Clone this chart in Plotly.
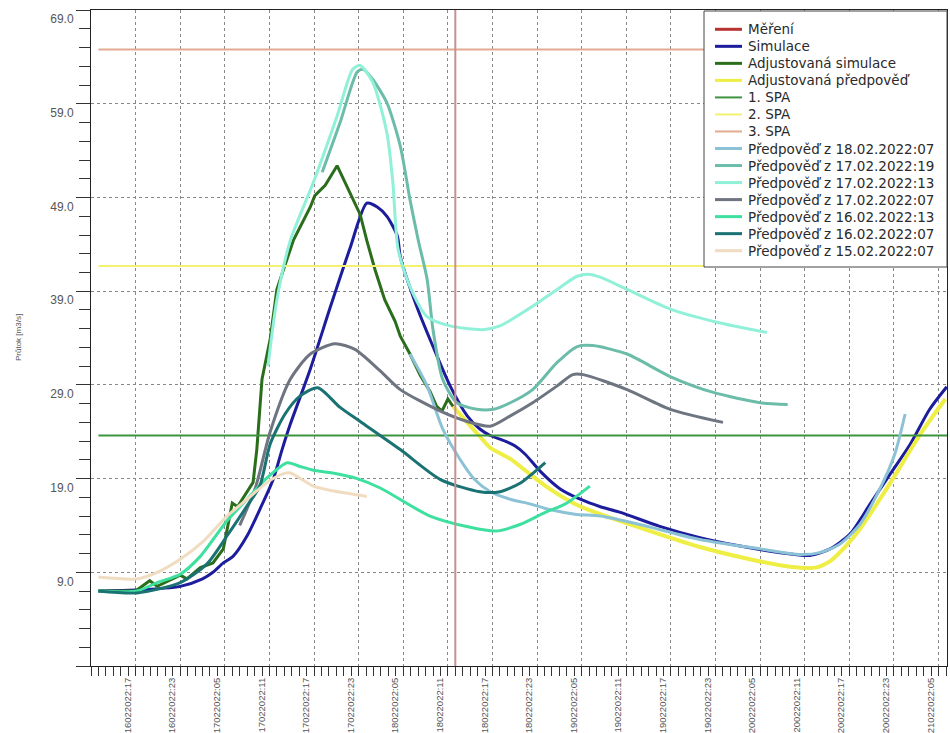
import pandas as pd
import plotly.graph_objects as go

BASE = pd.Timestamp("2022-02-16 00:00")

# x tick labels (every 6 hours)
x_tick_labels = ["16022022:17", "16022022:23", "17022022:05", "17022022:11", "17022022:17",
                 "17022022:23", "18022022:05", "18022022:11", "18022022:17", "18022022:23",
                 "19022022:05", "19022022:11", "19022022:17", "19022022:23", "20022022:05",
                 "20022022:11", "20022022:17", "20022022:23", "21022022:05"]
y_tick_vals = [-1, 9, 19, 29, 39, 49, 59, 69]
y_tick_text = ["", "9.0", "19.0", "29.0", "39.0", "49.0", "59.0", "69.0"]

# hours since 16.02.2022 00:00
x_range_h = [11, 126.13]
now_h = 60

# Simulace
sim_h = [12, 17, 23, 26, 27.4, 28.8, 30.1, 32, 33.7, 35.5, 36.7, 37.8, 40.5, 43.1, 45.8, 48.1, 49.5, 50.8,
         52.2, 52.6, 54.8, 57, 59.3, 61.6, 63.3, 64.7, 66.7, 68, 69.4, 71.4, 74.1, 76.8, 79.5, 82.2, 87.5,
         92.9, 98.3, 103.7, 107.7, 110.4, 113.1, 115.8, 118.5, 121.2, 123.8, 126.1]
sim_v = [7.0, 7.1, 7.5, 8.3, 9.0, 10.0, 10.7, 12.9, 15.7, 18.9, 22.1, 24.8, 30.7, 37.1, 43.5, 48.4, 48.0, 47.0,
         44.9, 42.7, 37.4, 33.1, 28.9, 25.7, 24.3, 23.6, 23.0, 22.5, 21.6, 19.8, 17.9, 16.8, 16.0, 15.4, 13.9,
         12.7, 11.8, 11.1, 10.8, 11.5, 13.1, 16.3, 19.5, 22.7, 26.4, 28.8]

# Adjustovaná simulace
adj_h = [12, 17, 18.9, 19.9, 23, 23.9, 25.7, 27.4, 28.8, 30, 30.7, 32.8, 33.3, 34, 35.1, 36, 38.2, 40.5, 41.1,
         42.5, 44.1, 45.8, 47.2, 48.1, 49.2, 50.5, 51.9, 52.6, 53.9, 55.3, 56.6, 57.5, 58.2, 59, 59.7]
adj_v = [7.0, 7.0, 8.1, 7.5, 8.7, 8.3, 9.5, 10.0, 11.5, 16.4, 16.0, 18.6, 22.1, 29.6, 33.9, 39.2, 44.4, 48.0, 49.2,
         50.3, 52.4, 49.5, 47.2, 44.4, 41.3, 38.1, 35.8, 34.2, 32.3, 30.0, 28.3, 26.7, 26.2, 27.5, 26.7]

# Adjustovaná předpověď
adjf_h = [59.7, 61.6, 63.3, 64.7, 67.4, 70, 72.7, 76.1, 79.5, 86.2, 92.9, 99.6, 105, 108.4, 110.4, 112.4, 114.4,
          117.1, 119.8, 122.5, 125.9]
adjf_v = [26.7, 25.0, 23.5, 22.3, 21.1, 19.5, 17.9, 16.3, 15.2, 13.4, 11.7, 10.4, 9.6, 9.5, 10.2, 11.7, 13.6,
          16.8, 20.2, 23.7, 27.5]

# SPA levels
spa1 = 23.6
spa2 = 41.7
spa3 = 64.8
spa_h = [12, 127]

# Forecasts
f1802_h = [53.9, 56.2, 58.3, 60.6, 62.6, 64.7, 67.4, 70, 72.7, 76.1, 79.5, 84.8, 92.9, 101, 106.4, 109, 111.7,
           114.4, 117.1, 119.1, 120.5]
f1802_v = [32.3, 28.9, 24.3, 21.1, 18.9, 17.6, 16.8, 16.3, 15.7, 15.2, 15.0, 14.1, 12.5, 11.5, 10.9, 11.1, 12.0,
           14.1, 17.9, 21.6, 25.9]

f1719_h = [42.1, 44.5, 46.8, 47.6, 48.9, 50.8, 52.6, 53.9, 55, 56.2, 57, 58.3, 60.2, 62.9, 65.1, 67.4, 70.4,
           73.7, 76.4, 78.5, 83.1, 88.9, 94.7, 101, 104.7]
f1719_v = [51.7, 57.0, 62.4, 62.7, 61.6, 59.1, 54.5, 48.8, 44.5, 40.3, 34.9, 29.6, 27.1, 26.4, 26.4, 27.1, 28.5,
           31.4, 33.1, 33.2, 32.3, 29.9, 28.2, 27.1, 26.9]

f1713_h = [34.8, 36, 37.8, 40.9, 44.1, 46.2, 47.2, 48.9, 50.8, 51.6, 52.3, 53.9, 56.2, 59.3, 63.7, 66, 70.4,
           73.7, 76.4, 78.1, 79.5, 83.1, 88.9, 95.2, 101.9]
f1713_v = [31.0, 38.1, 44.4, 50.6, 57.7, 62.7, 63.1, 61.3, 55.9, 50.6, 43.5, 39.5, 36.3, 35.3, 34.9, 35.3, 37.4,
           39.2, 40.6, 40.8, 40.5, 39.2, 37.1, 35.7, 34.6]

f1707_h = [31, 33.1, 35.1, 37.8, 40.5, 43.8, 46.5, 49.9, 52.6, 58, 61.6, 64.7, 67.4, 70.4, 73.7, 75.8, 77.2,
           83.1, 88.9, 96]
f1707_v = [14.0, 18.0, 24.0, 29.6, 32.3, 33.4, 32.8, 30.5, 28.5, 26.2, 25.1, 24.6, 25.7, 27.1, 28.9, 30.1, 30.1,
           28.5, 26.4, 25.0]

f1613_h = [12, 17.2, 19.9, 23, 25.7, 29.3, 32, 34.7, 37.4, 39.1, 40.9, 43.5, 46.8, 49.9, 56.6, 62, 65.4, 68.7,
           72.1, 74.8, 78.1]
f1613_v = [7.0, 7.0, 7.9, 8.8, 10.7, 14.5, 16.8, 19.1, 20.7, 20.3, 19.9, 19.6, 19.0, 18.0, 15.0, 13.8, 13.4, 14.1,
           15.4, 16.3, 18.2]

f1607_h = [12, 17.2, 23, 26.6, 29.3, 32, 33.7, 35.1, 37.1, 39.1, 41.5, 44.5, 47.2, 52.6, 58, 63.3, 66, 68.7, 72.1]
f1607_v = [7.0, 6.8, 7.9, 9.9, 12.9, 16.1, 18.2, 22.7, 25.9, 27.8, 28.7, 26.6, 25.1, 22.1, 18.9, 17.6, 17.6,
           18.5, 20.7]

f1507_h = [12, 17.2, 19.9, 23, 26.1, 29.3, 32, 34.7, 36.8, 37.8, 40.9, 43.5, 48.1]
f1507_v = [8.5, 8.3, 9.0, 10.4, 12.3, 15.0, 16.8, 18.6, 19.5, 19.6, 18.2, 17.7, 17.1]


def t(hours):
    return [BASE + pd.Timedelta(hours=h) for h in hours]


# plot area in pixels (for legend placement)
L, R, T, B = 91, 947, 10, 666


def px(xp):
    return (xp - L) / (R - L)


def py(yp):
    return (B - yp) / (B - T)


fig = go.Figure()
legend_entries = [("Měření", "#b83232", 3)]


def add(name, h, v, color, width, shape="spline"):
    fig.add_trace(go.Scatter(x=t(h), y=v, mode="lines", name=name, showlegend=False,
                             line=dict(color=color, width=width, shape=shape, smoothing=0.7)))
    legend_entries.append((name, color, min(width, 3)))


add("Simulace", sim_h, sim_v, "#1c1c9c", 3)
add("Adjustovaná simulace", adj_h, adj_v, "#2a6e1c", 3, "linear")
add("Adjustovaná předpověď", adjf_h, adjf_v, "#eeee44", 4)
add("1. SPA", spa_h, [spa1, spa1], "#3d9440", 2, "linear")
add("2. SPA", spa_h, [spa2, spa2], "#f2f270", 2, "linear")
add("3. SPA", spa_h, [spa3, spa3], "#e2aa90", 2, "linear")
add("Předpověď z 18.02.2022:07", f1802_h, f1802_v, "#8cc2d6", 3)
add("Předpověď z 17.02.2022:19", f1719_h, f1719_v, "#6cbcaa", 3)
add("Předpověď z 17.02.2022:13", f1713_h, f1713_v, "#90f0d8", 3)
add("Předpověď z 17.02.2022:07", f1707_h, f1707_v, "#6e7480", 3)
add("Předpověď z 16.02.2022:13", f1613_h, f1613_v, "#3ee0a0", 3)
add("Předpověď z 16.02.2022:07", f1607_h, f1607_v, "#1a7272", 3)
add("Předpověď z 15.02.2022:07", f1507_h, f1507_v, "#f0dcc0", 3)

now_time = BASE + pd.Timedelta(hours=now_h)
fig.add_shape(type="line", xref="x", yref="paper", x0=now_time, x1=now_time, y0=0, y1=1,
              line=dict(color="#c89090", width=2), layer="above")

# legend box (drawn manually for compact spacing)
fig.add_shape(type="rect", xref="paper", yref="paper", x0=px(704), x1=px(947), y0=py(267), y1=py(11),
              fillcolor="white", line=dict(color="#444", width=1), layer="above")
annotations = []
for i, (name, color, w) in enumerate(legend_entries):
    yy = py(29.3 + 17.03 * i)
    fig.add_shape(type="line", xref="paper", yref="paper", x0=px(715), x1=px(742), y0=yy, y1=yy,
                  line=dict(color=color, width=w), layer="above")
    annotations.append(dict(text=name, xref="paper", yref="paper", x=px(745.5), y=yy, showarrow=False,
                            xanchor="left", yanchor="middle",
                            font=dict(family="DejaVu Sans", size=13.5, color="#2a2a2a")))

annotations.append(dict(text="Průtok [m3/s]", xref="paper", yref="paper", x=px(18), y=0.5,
                        textangle=-90, showarrow=False, xanchor="center", yanchor="middle",
                        font=dict(family="Liberation Sans", size=8, color="#555")))

x_tick_vals = [pd.to_datetime(s, format="%d%m%Y:%H") for s in x_tick_labels]

fig.update_layout(
    width=950, height=733,
    margin=dict(l=L, r=950 - R, t=T, b=733 - B),
    plot_bgcolor="white", paper_bgcolor="white",
    showlegend=False,
    xaxis=dict(type="date", range=t(x_range_h), tickmode="array", tickvals=x_tick_vals,
               ticktext=x_tick_labels, tickangle=-90, ticks="outside", ticklen=9, tickcolor="#333",
               showgrid=True, gridcolor="#888", griddash="dot", gridwidth=1,
               showline=True, linecolor="#222", mirror=True, zeroline=False, automargin=False,
               tickfont=dict(family="Liberation Sans", size=9.5, color="#555"),
               ticklabelshift=-8, ticklabelstandoff=-2,
               minor=dict(ticks="outside", ticklen=9, tickcolor="#333", dtick=3600000,
                          tick0=t([0])[0], showgrid=False)),
    yaxis=dict(range=[-1, 69.02], tickmode="array", tickvals=y_tick_vals, ticktext=y_tick_text,
               ticks="outside", ticklen=14, tickcolor="#333",
               showgrid=True, gridcolor="#888", griddash="dot", gridwidth=1,
               showline=True, linecolor="#222", mirror=True, zeroline=False, automargin=False,
               tickfont=dict(family="Liberation Sans", size=12, color="#555"),
               ticklabelshift=9, ticklabeloverflow="allow",
               minor=dict(ticks="outside", ticklen=11, tickcolor="#333", dtick=2, tick0=-1,
                          showgrid=False)),
    annotations=annotations,
)

fig.write_html("out.html", config={"displayModeBar": False},
               post_script="document.body.style.margin='0px';document.body.style.padding='0px';")
